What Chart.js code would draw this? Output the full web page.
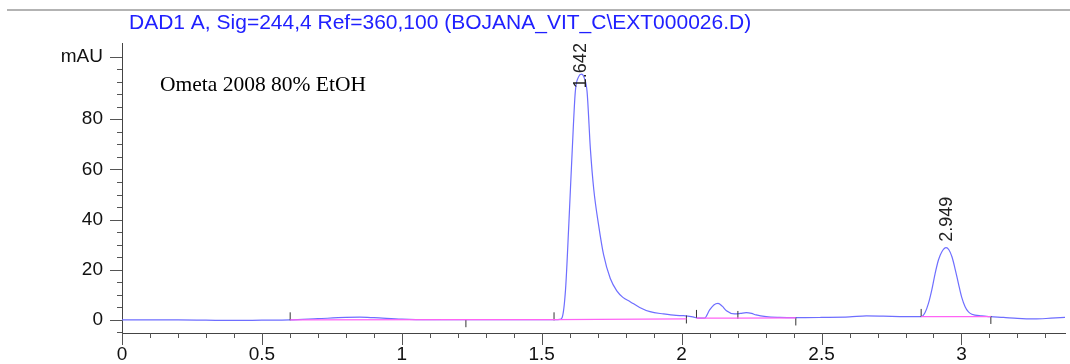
<!DOCTYPE html>
<html>
<head>
<meta charset="utf-8">
<script src="https://cdn.jsdelivr.net/npm/chart.js@4.4.1/dist/chart.umd.min.js"></script>
<style>
  body { margin: 0; background: #fff; }
</style>
</head>
<body>
<canvas id="chrom" width="1070" height="364"></canvas>
<script>
// signal (time in min, signal in mAU)
var traceTime = [0, 0.1, 0.2, 0.3, 0.4, 0.5, 0.6, 0.7, 0.8, 0.85, 0.9, 1.0, 1.1, 1.2, 1.3, 1.4, 1.5, 1.55, 1.565,
    1.573, 1.585, 1.597, 1.609, 1.620, 1.632, 1.642, 1.652, 1.662, 1.674, 1.686, 1.703, 1.721, 1.745, 1.769, 1.79,
    1.816, 1.85, 1.887, 1.935, 1.98, 2.006, 2.04, 2.06, 2.082, 2.10, 2.115, 2.13, 2.145, 2.16, 2.189, 2.21, 2.231,
    2.25, 2.266, 2.302, 2.35, 2.408, 2.5, 2.6, 2.66, 2.72, 2.8, 2.855, 2.87, 2.882, 2.894, 2.906, 2.918, 2.930,
    2.945, 2.955, 2.966, 2.978, 2.989, 3.001, 3.013, 3.025, 3.037, 3.072, 3.105, 3.15, 3.2, 3.26, 3.32, 3.37];
var traceSignal = [0, 0, 0, -0.1, -0.2, -0.1, 0, 0.5, 1.0, 1.1, 0.9, 0.3, 0.1, 0.1, 0.1, 0.1, 0.1, 0.1, 0.2,
    1, 12, 38.6, 67.7, 91, 97, 98, 96.5, 91, 68, 52, 38, 26, 16.5, 11.5, 9,
    7.3, 5, 3.3, 2.4, 1.8, 1.7, 1.2, 0.7, 0.7, 4, 6, 6.6, 5.5, 3.7, 2.4, 2.6, 2.9,
    2.6, 2, 1.3, 1.0, 0.9, 1.0, 1.2, 1.6, 1.5, 1.3, 1.3, 3, 6.6, 12, 18.6, 24, 27.2,
    28.8, 28, 25.2, 20, 14.6, 9, 5.3, 3.2, 2.3, 1.6, 1.3, 1.0, 0.6, 0.4, 0.7, 1.0];

// integration baselines (null = break)
var baseTime = [0.601, 1.229, 1.544, 2.017, 2.03, 2.053, 2.201, 2.408, 2.6, 2.856, 3.105];
var baseSignal = [0, 0.1, 0.1, 0.4, null, 0.7, 0.7, 0.8, null, 1.3, 1.3];

// peak start / end event marks
var eventTime = [0.601, 1.229, 1.544, 2.017, 2.053, 2.201, 2.408, 2.856, 3.105];
var eventLevel = [1.45, -1.3, 1.45, 0.2, 2.4, 2.0, -0.6, 2.8, 0];

// retention time labels
var peakTime = [1.642, 2.949];
var peakLabel = ['1.642', '2.949'];
var peakLabelAt = [92.4, 31.2];

// axis ticks
var xTicks = [0, 0.1, 0.2, 0.3, 0.4, 0.5, 0.6, 0.7, 0.8, 0.9, 1, 1.1, 1.2, 1.3, 1.4, 1.5, 1.6, 1.7, 1.8, 1.9,
    2, 2.1, 2.2, 2.3, 2.4, 2.5, 2.6, 2.7, 2.8, 2.9, 3, 3.1, 3.2, 3.3];
var xTickLabels = { 0: '0', 0.5: '0.5', 1: '1', 1.5: '1.5', 2: '2', 2.5: '2.5', 3: '3' };
var yTicks = [-5, 0, 5, 10, 15, 20, 25, 30, 35, 40, 45, 50, 55, 60, 65, 70, 75, 80, 85, 90, 95, 100, 105];
var yTickLabels = { 0: '0', 20: '20', 40: '40', 60: '60', 80: '80', 105: 'mAU' };

function pairs(xs, ys) {
    return xs.map(function(x, i) { return { x: x, y: ys[i] }; });
}

var decor = {
    id: 'decor',
    afterDraw: function(chart) {
        var ctx = chart.ctx, xs = chart.scales.x, ys = chart.scales.y;
        ctx.save();

        // tick marks, long ones where there is a label
        ctx.strokeStyle = '#555';
        ctx.lineWidth = 1;
        ctx.beginPath();
        xs.ticks.forEach(function(t) {
            var px = Math.round(xs.getPixelForValue(t.value)) + 0.5;
            var len = t.label ? 12 : 5;
            ctx.moveTo(px, xs.top);
            ctx.lineTo(px, xs.top + len);
        });
        ys.ticks.forEach(function(t) {
            var py = Math.round(ys.getPixelForValue(t.value)) + 0.5;
            var len = t.label ? 12 : 5;
            ctx.moveTo(ys.right - len, py);
            ctx.lineTo(ys.right, py);
        });
        ctx.stroke();

        // top rule
        ctx.strokeStyle = '#9a9a9a';
        ctx.lineWidth = 1.5;
        ctx.beginPath();
        ctx.moveTo(7, 10);
        ctx.lineTo(1070, 10);
        ctx.stroke();

        // signal description
        ctx.fillStyle = 'rgb(32,32,255)';
        ctx.font = '21px "Liberation Sans", Arial, sans-serif';
        ctx.textAlign = 'left';
        ctx.textBaseline = 'alphabetic';
        ctx.fillText('DAD1 A, Sig=244,4 Ref=360,100 (BOJANA_VIT_C\\EXT000026.D)', 129, 28.5);

        // sample note
        ctx.fillStyle = '#000';
        ctx.font = '21.5px "Liberation Serif", "Times New Roman", serif';
        ctx.fillText('Ometa 2008 80% EtOH', 160, 91);

        // retention times
        ctx.fillStyle = '#222';
        ctx.font = '18px "Liberation Sans", Arial, sans-serif';
        ctx.textBaseline = 'middle';
        peakTime.forEach(function(t, i) {
            ctx.save();
            ctx.translate(xs.getPixelForValue(t), ys.getPixelForValue(peakLabelAt[i]));
            ctx.rotate(-Math.PI / 2);
            ctx.fillText(peakLabel[i], 0, 0);
            ctx.restore();
        });

        ctx.restore();
    }
};

var ctx = document.getElementById('chrom').getContext('2d');
var chart = new Chart(ctx, {
    type: 'line',
    data: {
        datasets: [{
            data: pairs(baseTime, baseSignal),
            borderColor: 'rgb(255,100,245)',
            borderWidth: 1.3,
            pointRadius: 0,
            spanGaps: false,
            order: 0
        }, {
            data: pairs(traceTime, traceSignal),
            borderColor: 'rgb(110,110,255)',
            borderWidth: 1.2,
            pointRadius: 0,
            tension: 0.4,
            cubicInterpolationMode: 'monotone',
            order: 1
        }, {
            data: pairs(eventTime, eventLevel),
            showLine: false,
            pointStyle: 'line',
            rotation: 90,
            pointRadius: 4,
            borderColor: '#333',
            borderWidth: 1,
            order: 0
        }]
    },
    options: {
        responsive: false,
        animation: false,
        layout: { padding: { top: 43, left: 0, right: 0, bottom: 0 } },
        plugins: { legend: { display: false }, title: { display: false }, tooltip: { enabled: false } },
        scales: {
            x: {
                type: 'linear',
                min: 0,
                max: 3.37,
                afterFit: function(s) { s.height = 31; },
                afterBuildTicks: function(s) { s.ticks = xTicks.map(function(v) { return { value: v }; }); },
                grid: { display: false, drawTicks: false },
                border: { display: true, color: '#444', width: 1 },
                ticks: {
                    autoSkip: false,
                    maxRotation: 0,
                    padding: 10,
                    color: '#111',
                    font: { family: '"Liberation Sans", Arial, sans-serif', size: 19 },
                    callback: function(v) { return xTickLabels[Math.round(v * 10) / 10] || ''; }
                }
            },
            y: {
                min: -5.2,
                max: 110.4,
                afterFit: function(s) { s.width = 122; },
                afterBuildTicks: function(s) { s.ticks = yTicks.map(function(v) { return { value: v }; }); },
                grid: { display: false, drawTicks: false },
                border: { display: true, color: '#444', width: 1 },
                ticks: {
                    autoSkip: false,
                    padding: 19,
                    color: '#111',
                    font: { family: '"Liberation Sans", Arial, sans-serif', size: 19 },
                    callback: function(v) { return yTickLabels[v] || ''; }
                }
            }
        }
    },
    plugins: [decor]
});
</script>
</body>
</html>
